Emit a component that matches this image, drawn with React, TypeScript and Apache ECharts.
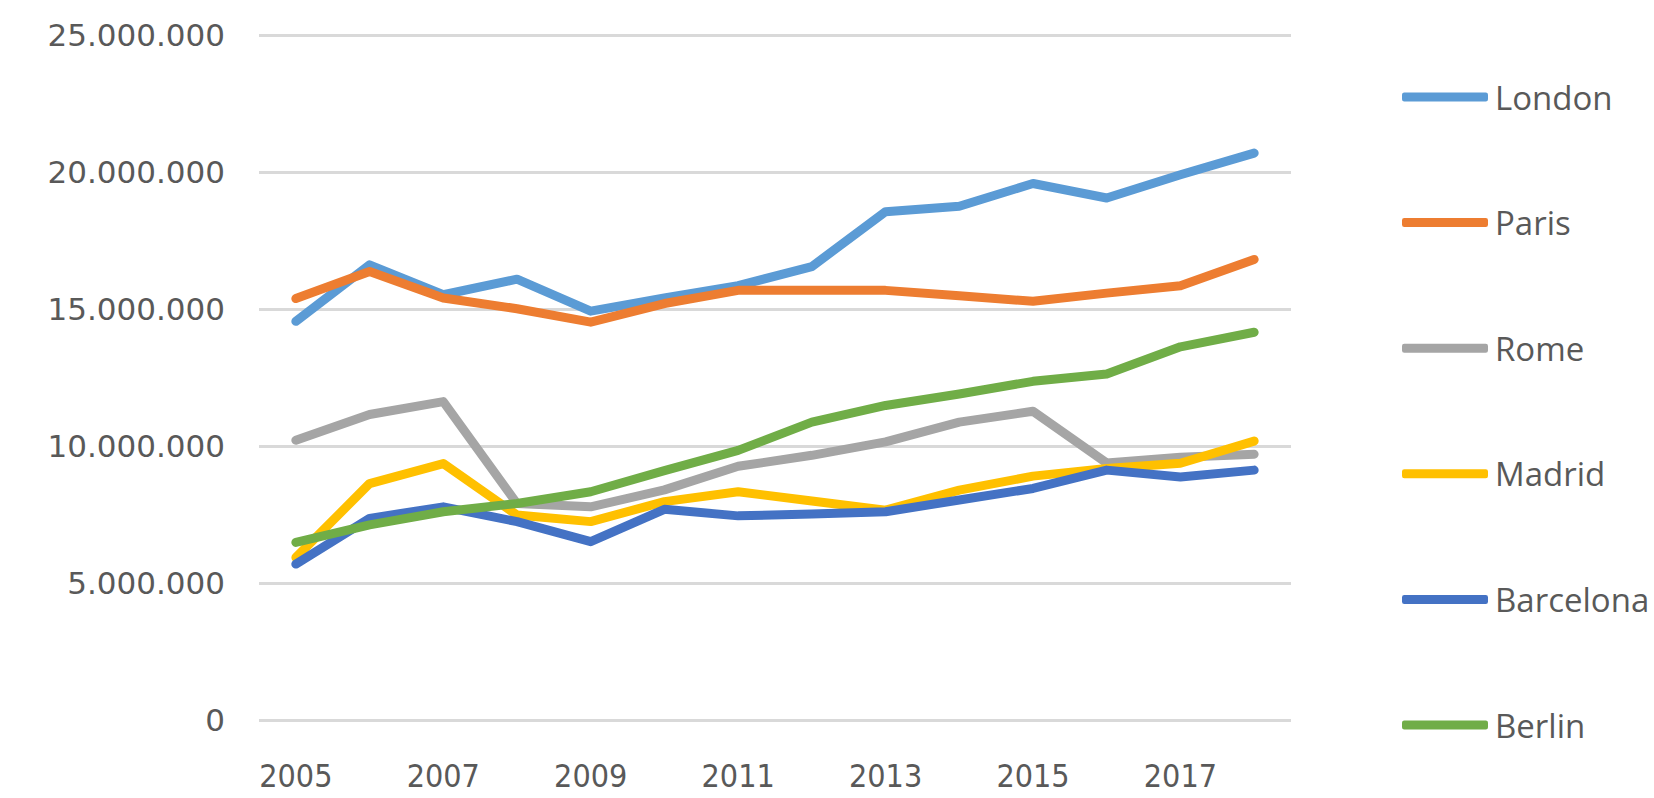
import React, { useEffect, useRef } from "react";
import * as echarts from "echarts";

const years = ["2005","2006","2007","2008","2009","2010","2011","2012","2013","2014","2015","2016","2017","2018"];
const cityNames = ["London", "Paris", "Rome", "Madrid", "Barcelona", "Berlin"];
const cityColors = ["#5B9BD5", "#ED7D31", "#A5A5A5", "#FFC000", "#4472C4", "#70AD47"];
const yTicks = [0, 5000000, 10000000, 15000000, 20000000, 25000000];

// values in millions
const london = [14.55, 16.61, 15.52, 16.09, 14.92, 15.4, 15.85, 16.55, 18.55, 18.75, 19.58, 19.05, 19.9, 20.69];
const paris = [15.38, 16.37, 15.4, 15.01, 14.52, 15.2, 15.68, 15.68, 15.68, 15.48, 15.28, 15.58, 15.85, 16.81];
const rome = [10.21, 11.15, 11.62, 7.9, 7.78, 8.4, 9.26, 9.66, 10.15, 10.87, 11.27, 9.38, 9.59, 9.7];
const madrid = [5.93, 8.63, 9.36, 7.48, 7.24, 7.97, 8.33, 7.99, 7.66, 8.39, 8.9, 9.18, 9.37, 10.18];
const barcelona = [5.69, 7.36, 7.78, 7.24, 6.51, 7.69, 7.45, 7.52, 7.6, 8.03, 8.45, 9.12, 8.87, 9.12];
const berlin = [6.48, 7.12, 7.6, 7.9, 8.33, 9.1, 9.84, 10.87, 11.48, 11.9, 12.36, 12.63, 13.62, 14.15];

const cityValues = [london, paris, rome, madrid, barcelona, berlin];

function fmt(v: number): string {
  return String(Math.round(v)).replace(/\B(?=(\d{3})+(?!\d))/g, ".");
}

export default function App() {
  const ref = useRef<HTMLDivElement>(null);
  useEffect(() => {
    document.body.style.margin = "0";
    if (!ref.current) return;
    const chart = echarts.init(ref.current, undefined, { renderer: "svg" });
    chart.setOption({
      animation: false,
      backgroundColor: "#ffffff",
      grid: { left: 259, right: 363, top: 35, bottom: 78, containLabel: false },
      legend: {
        orient: "vertical",
        left: 1402,
        top: 77,
        padding: 0,
        itemWidth: 86,
        itemHeight: 9,
        itemGap: 85.6,
        icon: "roundRect",
        data: cityNames,
        textStyle: {
          fontFamily: "Open Sans",
          fontSize: 33,
          lineHeight: 40,
          color: "#595959",
          padding: [0, 0, 0, 2],
        },
      },
      xAxis: {
        type: "category",
        data: years,
        boundaryGap: true,
        axisLine: { show: false },
        axisTick: { show: false },
        axisLabel: {
          interval: 1,
          margin: 40,
          color: "#595959",
          fontFamily: "Liberation Sans Narrow, DejaVu Sans Condensed, sans-serif",
          fontSize: 32,
        },
      },
      yAxis: {
        type: "value",
        min: yTicks[0],
        max: yTicks[yTicks.length - 1],
        interval: 5000000,
        axisLine: { show: false },
        axisTick: { show: false },
        splitLine: { lineStyle: { color: "#D9D9D9", width: 3 } },
        axisLabel: {
          margin: 34,
          color: "#595959",
          fontFamily: "DejaVu Sans",
          fontSize: 31,
          formatter: (v: number) => fmt(v),
        },
      },
      series: cityNames.map((name, i) => ({
        name,
        type: "line",
        data: cityValues[i].map((v) => Math.round(v * 1000000)),
        symbol: "none",
        itemStyle: { color: cityColors[i] },
        lineStyle: { color: cityColors[i], width: 9, cap: "round", join: "round" },
      })),
    });
    return () => chart.dispose();
  }, []);
  return <div ref={ref} style={{ width: 1654, height: 798 }} />;
}
